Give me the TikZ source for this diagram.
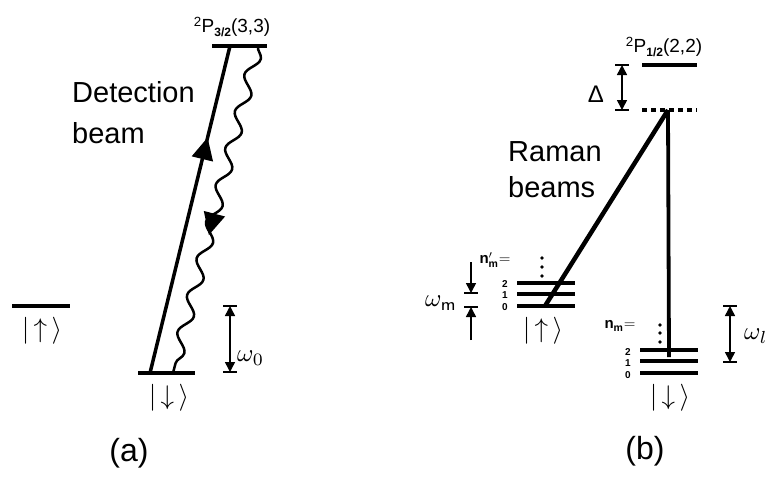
\documentclass[tikz,border=0pt]{standalone}
\usepackage{fontspec}
\setmainfont{Liberation Sans}
\usetikzlibrary{arrows.meta,decorations.pathmorphing,decorations.markings}
\newcommand{\scm}[2]{\scalebox{#1}{$#2$}}
\begin{document}
\begin{tikzpicture}[x=1pt,y=-1pt,
  lvl/.style={line width=4.5pt},
  beam/.style={line width=3.5pt},
  wave/.style={line width=2.5pt, decorate, decoration={snake, segment length=38pt, amplitude=6pt}},
  meas/.style={line width=1.5pt},
  tipend/.style={-{Triangle[length=10pt,width=10pt]}},
  tipboth/.style={{Triangle[length=10pt,width=10pt]}-{Triangle[length=10pt,width=10pt]}},
  tick/.style={line width=1.5pt},
  lbl/.style={font=\fontsize{29}{34}\selectfont, anchor=base west, inner sep=0},
  ket/.style={inner sep=0},
  qn/.style={font=\fontsize{10}{10}\selectfont\bfseries, inner sep=0},
  state/.style={font=\fontsize{19}{22}\selectfont, inner sep=0},
  omega/.style={inner sep=0},
  panel/.style={font=\fontsize{32}{36}\selectfont, inner sep=0},
  nlab/.style={inner sep=0}
]
\useasboundingbox (0,0) rectangle (766,483);

% ---------------- panel (a) ----------------
\coordinate (PaL) at (212,46);  \coordinate (PaR) at (267,46);
\coordinate (DaL) at (138,373); \coordinate (DaR) at (195,373);
\coordinate (UaL) at (12,306);  \coordinate (UaR) at (70,306);
\draw[lvl] (PaL) -- (PaR);
\draw[lvl] (DaL) -- (DaR);
\draw[lvl] (UaL) -- (UaR);

\node[state] (Pa) at (232,27) {\textsuperscript{2}P\raisebox{-0.35ex}{\fontsize{12}{12}\selectfont\bfseries 3/2}(3,3)};
\node[ket] (kdA) at (169,398) {\scm{2.7}{|\,{\downarrow}\,\rangle}};
\node[ket] (kuA) at (42,331) {\scm{2.7}{|\,{\uparrow}\,\rangle}};

\node[lbl] (det1) at (72,102) {Detection};
\node[lbl] (det2) at (72,143) {beam};

% detection beam
\coordinate (b1) at (150,373); \coordinate (b2) at (230,46);
\draw[beam] (b1) -- (b2);
\path[decoration={markings, mark=at position 0.72 with {\fill (0,0) -- (-22pt,11pt) -- (-22pt,-11pt) -- cycle;}}, postaction={decorate}] (b1) -- (b2);

% fluorescence (wavy)
\coordinate (w1) at (258,46); \coordinate (w2) at (173,373);
\draw[wave] (w1) -- (w2);
\path[decoration={markings, mark=at position 0.578 with {\fill (0,0) -- (-22pt,11pt) -- (-22pt,-11pt) -- cycle;}}, postaction={decorate}] (w1) -- (w2);

% omega_0
\coordinate (o0t) at (230,306); \coordinate (o0b) at (230,372);
\draw[meas,tipboth] (o0t) -- (o0b);
\draw[tick] ([xshift=-7pt]o0t) -- ([xshift=7pt]o0t);
\draw[tick] ([xshift=-7pt]o0b) -- ([xshift=7pt]o0b);
\node[omega, anchor=west] (om0) at (237,358) {\scm{2.5}{\omega_{0}}};

\node[panel] (pa) at (129,453) {(a)};

% ---------------- panel (b) ----------------
\coordinate (PbL) at (642,65);  \coordinate (PbR) at (697,65);
\coordinate (VbL) at (642,110); \coordinate (VbR) at (697,110);
\draw[lvl] (PbL) -- (PbR);
\draw[lvl, dash pattern=on 5pt off 4pt] (VbL) -- (VbR);
\node[state] (Pb) at (664,47) {\textsuperscript{2}P\raisebox{-0.35ex}{\fontsize{12}{12}\selectfont\bfseries 1/2}(2,2)};

% Delta
\coordinate (dt) at (622,65); \coordinate (db) at (622,110);
\draw[meas,tipboth] (dt) -- (db);
\draw[tick] ([xshift=-7pt]dt) -- ([xshift=7pt]dt);
\draw[tick] ([xshift=-7pt]db) -- ([xshift=7pt]db);
\node[font=\fontsize{24}{26}\selectfont, inner sep=0] (Dl) at (596,94) {Δ};

% up manifold
\foreach \y/\n in {283/2,294/1,306/0} {
  \draw[lvl] (517,\y) -- (575,\y);
  \node[qn] at (505,\y+1) {\n};
}
\foreach \y in {258,267,276} \fill (542,\y) circle (1.9pt);
\node[nlab] (nmp) at (495,260) {\scm{1.5}{\mathbf{n}'_{\mathbf{m}}\mathbf{=}}};
\node[ket] (kuB) at (543,331) {\scm{2.7}{|\,{\uparrow}\,\rangle}};

% down manifold
\foreach \y/\n in {350/2,361/1,373/0} {
  \draw[lvl] (640,\y) -- (698,\y);
  \node[qn] at (628,\y+2) {\n};
}
\foreach \y in {325,333,342} \fill (660,\y) circle (1.9pt);
\node[nlab] (nm) at (620,326) {\scm{1.5}{\mathbf{n}_{\mathbf{m}}\mathbf{=}}};
\node[ket] (kdB) at (670,398) {\scm{2.7}{|\,{\downarrow}\,\rangle}};

% Raman beams
\coordinate (vp) at (668,110);
\coordinate (r1) at (545,306);
\coordinate (r2) at (669,357);
\draw[line width=4.5pt] (vp) -- (r1);
\draw[line width=3.8pt] (vp) -- (r2);
\node[lbl] (ram1) at (508,161) {Raman};
\node[lbl] (ram2) at (508,197) {beams};

% omega_m
\coordinate (mt0) at (471,262); \coordinate (mt) at (471,293);
\coordinate (mb0) at (471,340); \coordinate (mb) at (471,307);
\draw[meas,tipend] (mt0) -- (mt);
\draw[meas,tipend] (mb0) -- (mb);
\draw[tick] ([xshift=-7pt]mt) -- ([xshift=7pt]mt);
\draw[tick] ([xshift=-7pt]mb) -- ([xshift=7pt]mb);
\node[omega] (omm) at (441,303) {\scm{2.5}{\omega_{\mathsf{m}}}};

% omega_l
\coordinate (lt) at (730,306); \coordinate (lb) at (730,362);
\draw[meas,tipboth] (lt) -- (lb);
\draw[tick] ([xshift=-7pt]lt) -- ([xshift=7pt]lt);
\draw[tick] ([xshift=-7pt]lb) -- ([xshift=7pt]lb);
\node[omega, anchor=west] (oml) at (744,336) {\scm{2.5}{\omega_{l}}};

\node[panel] (pb) at (645,451) {(b)};
\end{tikzpicture}
\end{document}
